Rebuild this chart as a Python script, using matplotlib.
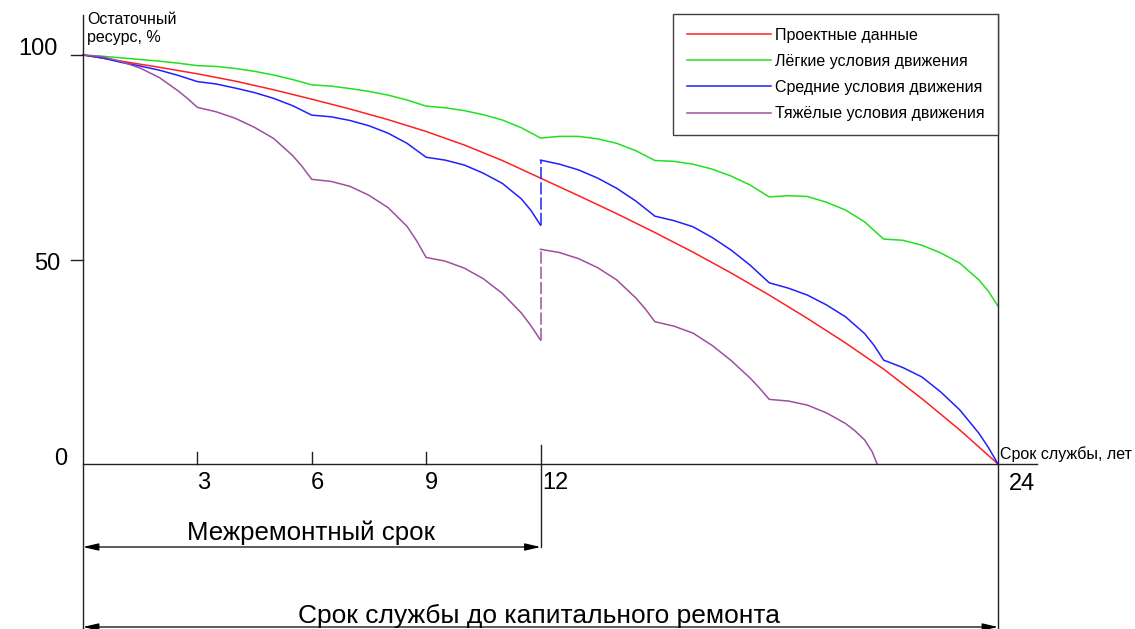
import numpy as np
import matplotlib
matplotlib.use('Agg')
import matplotlib.pyplot as plt
from matplotlib.lines import Line2D

plt.rcParams['font.family'] = ['Liberation Sans', 'DejaVu Sans']

# Проектные данные
red_t = [0, 1, 2, 3, 4, 5, 6, 7, 8, 9, 10, 11, 12, 13, 14, 15, 16, 17, 18, 19, 20, 21, 22, 23, 24]
red_v = [100, 98.5, 97.0, 95.4, 93.6, 91.5, 89.2, 86.8, 84.2, 81.3, 78.0, 74.2, 69.9, 65.6, 61.2,
         56.6, 51.8, 46.7, 41.3, 35.6, 29.6, 23.2, 16.0, 8.3, 0]

# Лёгкие условия движения
green_t = [0, 0.5, 1, 1.5, 2, 2.5, 3, 3.5, 4, 4.5, 5, 5.5, 6, 6.5, 7, 7.5, 8, 8.5, 9,
           9.5, 10, 10.5, 11, 11.5, 12, 12.5, 13, 13.5, 14, 14.5, 15, 15.5, 16, 16.5, 17, 17.5, 18,
           18.5, 19, 19.5, 20, 20.5, 21, 21.5, 22, 22.5, 23, 23.5, 23.75, 24]
green_v = [100, 99.7, 99.3, 98.9, 98.5, 98.0, 97.4, 97.2, 96.7, 96.0, 95.1, 94.0, 92.7, 92.4, 91.8,
           91.1, 90.2, 89.0, 87.5, 87.1, 86.4, 85.4, 84.1, 82.2, 79.7, 80.1, 80.1, 79.5, 78.4, 76.6,
           74.2, 74.0, 73.3, 72.1, 70.4, 68.2, 65.3, 65.6, 65.4, 64.0, 62.1, 59.2, 55.0, 54.7, 53.5,
           51.6, 49.1, 45.0, 42.2, 38.6]

# Средние условия движения (до и после ремонта в 12 лет)
blue1_t = [0, 0.5, 1, 1.5, 2, 2.5, 3, 3.5, 4, 4.5, 5, 5.5, 6, 6.5, 7, 7.5, 8, 8.5, 9,
           9.5, 10, 10.5, 11, 11.5, 11.75, 12]
blue1_v = [100, 99.3, 98.2, 97.3, 96.3, 95.0, 93.5, 92.9, 91.9, 90.8, 89.4, 87.6, 85.3, 84.9, 84.0,
           82.7, 80.9, 78.4, 75.0, 74.3, 73.1, 71.1, 68.6, 64.8, 62.0, 58.4]
blue2_t = [12, 12.5, 13, 13.5, 14, 14.5, 15, 15.5, 16, 16.5, 17, 17.5, 18, 18.5, 19, 19.5, 20,
           20.5, 20.75, 21, 21.5, 22, 22.5, 23, 23.5, 23.75, 24]
blue2_v = [74.3, 73.3, 71.9, 69.9, 67.4, 64.3, 60.6, 59.5, 58.0, 55.4, 52.3, 48.6, 44.3, 43.0, 41.3,
           38.9, 36.0, 31.9, 29.0, 25.4, 23.6, 21.3, 17.6, 13.2, 7.5, 4.0, 0]

# Тяжёлые условия движения
purple1_t = [0, 0.5, 1, 1.5, 2, 2.5, 2.75, 3, 3.5, 4, 4.5, 5, 5.5, 5.75, 6, 6.5, 7, 7.5, 8, 8.5,
             8.75, 9, 9.5, 10, 10.5, 11, 11.5, 11.75, 12]
purple1_v = [100, 99.6, 98.4, 96.8, 94.5, 91.2, 89.3, 87.2, 86.1, 84.5, 82.3, 79.6, 75.4, 72.7, 69.6,
             69.1, 67.9, 65.7, 62.7, 58.1, 54.6, 50.5, 49.6, 47.9, 45.3, 41.7, 36.9, 33.8, 30.3]
purple2_t = [12, 12.5, 13, 13.5, 14, 14.5, 14.75, 15, 15.5, 16, 16.5, 17, 17.5, 17.75, 18,
             18.5, 19, 19.5, 20, 20.25, 20.5, 20.7, 20.83]
purple2_v = [52.5, 51.7, 50.2, 48.0, 45.0, 40.6, 37.9, 34.8, 33.7, 32.0, 29.0, 25.3, 21.0, 18.5, 15.8,
             15.4, 14.4, 12.5, 9.9, 8.1, 5.9, 3.0, 0]

labels = ['Проектные данные', 'Лёгкие условия движения',
          'Средние условия движения', 'Тяжёлые условия движения']
colors = ['#ff2020', '#20e020', '#2020ff', '#9e4f9e']

# pixel mapping of the original drawing
W, H = 1135, 629
x0, px_year = 83, 915 / 24
y0, px_pct = 464, 4.09

fig = plt.figure(figsize=(W / 100, H / 100), dpi=100)
ax = fig.add_axes([0, 0, 1, 1])
ax.set_xlim(-x0 / px_year, (W - x0) / px_year)
ax.set_ylim((y0 - H) / px_pct, y0 / px_pct)
ax.axis('off')

lw = 1.1
ax.plot(red_t, red_v, color=colors[0], lw=lw)
ax.plot(green_t, green_v, color=colors[1], lw=lw)
ax.plot(blue1_t, blue1_v, color=colors[2], lw=lw)
ax.plot(blue2_t, blue2_v, color=colors[2], lw=lw)
ax.plot([12, 12], [blue1_v[-1], blue2_v[0]], color=colors[2], lw=lw, dashes=(8, 2))
ax.plot(purple1_t, purple1_v, color=colors[3], lw=lw)
ax.plot(purple2_t, purple2_v, color=colors[3], lw=lw)
ax.plot([12, 12], [purple1_v[-1], purple2_v[0]], color=colors[3], lw=lw, dashes=(8, 2))

# axes lines
k = '#222222'
top = (y0 - 14) / px_pct
bot = (y0 - H) / px_pct
ax.plot([0, 0], [bot, (y0 - 15) / px_pct], color=k, lw=1.0)
ax.plot([0, (1037 - x0) / px_year], [0, 0], color=k, lw=1.0)
ax.plot([24, 24], [bot, top], color=k, lw=1.0)
ax.plot([12, 12], [(y0 - 547) / px_pct, (y0 - 445) / px_pct], color=k, lw=1.0)

tick_len = 12 / px_pct
for t in [3, 6, 9]:
    ax.plot([t, t], [0, tick_len], color=k, lw=1.0)
for v in [50, 100]:
    ax.plot([-12 / px_year, 0], [v, v], color=k, lw=1.0)

fs = 17
ax.text(-25 / px_year, 100, '100', ha='right', va='baseline', fontsize=fs)
ax.text(-23 / px_year, 47.5, '50', ha='right', va='baseline', fontsize=fs)
ax.text(-16 / px_year, -0.2, '0', ha='right', va='baseline', fontsize=fs)
for t in [3, 6, 9]:
    ax.text(t - 0.02, -6.1, str(t), ha='left', va='baseline', fontsize=fs)
ax.text(12.05, -6.1, '12', ha='left', va='baseline', fontsize=fs)
ax.text(24.29, -6.3, '24', ha='left', va='baseline', fontsize=fs)

ax.text(0.1, (y0 - 12) / px_pct, 'Остаточный\nресурс, %', ha='left', va='top',
        fontsize=11.5, linespacing=1.25)
ax.text(24.05, 1.22, 'Срок службы, лет', ha='left', va='baseline', fontsize=11.5)

# dimension arrows
astyle = '<|-|>,head_length=0.47,head_width=0.11'
y_a1 = (y0 - 547) / px_pct
y_a2 = (y0 - 627) / px_pct
for xe, ya in [(12, y_a1), (24, y_a2)]:
    ax.annotate('', xy=(0, ya), xytext=(xe, ya),
                arrowprops=dict(arrowstyle=astyle, color='black', lw=0.9,
                                mutation_scale=20, shrinkA=0, shrinkB=0))
ax.text(5.99, (y0 - 540) / px_pct, 'Межремонтный срок', ha='center', va='baseline', fontsize=18.6)
ax.text(11.97, (y0 - 623) / px_pct, 'Срок службы до капитального ремонта',
        ha='center', va='baseline', fontsize=19)

handles = [Line2D([], [], color=c, lw=lw) for c in colors]
leg = ax.legend(handles, labels, loc='upper right',
                bbox_to_anchor=(998 / W, (H - 14) / H), bbox_transform=fig.transFigure,
                fontsize=11.5, handlelength=5.25, handletextpad=0.25, borderpad=0.85,
                labelspacing=0.7, borderaxespad=0, fancybox=False, framealpha=1)
leg.get_frame().set_edgecolor('#404040')
leg.get_frame().set_linewidth(1.0)

fig.savefig('out.png', dpi=100)
